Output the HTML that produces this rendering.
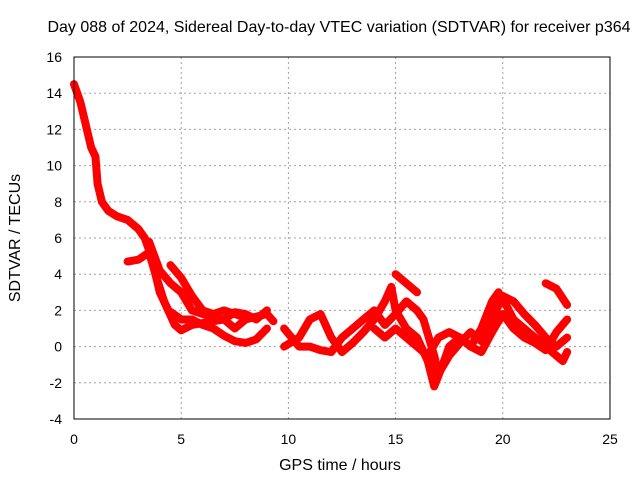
<!DOCTYPE html>
<html><head><meta charset="utf-8"><style>
body{margin:0;background:#fff}
svg text{font-family:"Liberation Sans",sans-serif;font-size:14px;fill:#000}
svg text.big{font-size:16px}
</style></head><body>
<svg id="chart" width="640" height="480" xmlns="http://www.w3.org/2000/svg">
<text class="big" x="339" y="32" text-anchor="middle">Day 088 of 2024, Sidereal Day-to-day VTEC variation (SDTVAR) for receiver p364</text>
<text class="big" x="340" y="470" text-anchor="middle">GPS time / hours</text>
<text class="big" transform="translate(20,238) rotate(-90)" text-anchor="middle">SDTVAR / TECUs</text>
<g id="grid"></g><g id="ticks"></g><g id="data"></g>
<rect x="74" y="57" width="536" height="362" fill="none" stroke="#000" stroke-width="1"/>
</svg>
<script>
const xTicks=[0,5,10,15,20,25];
const yTicks=[-4,-2,0,2,4,6,8,10,12,14,16];
const trackA=[[0,14.5],[0.3,13.5],[0.5,12.5],[0.8,11],[1,10.5],[1.1,9],[1.3,8],[1.6,7.5],[2,7.2],[2.5,7],[3,6.5],[3.3,6],[3.6,5],[4,3],[4.4,2],[5,1.5],[5.5,1.5],[6,1.2],[6.5,1],[7,0.6],[7.5,0.3],[8,0.2],[8.5,0.4],[9,1]];
const trackB=[[2.5,4.7],[3,4.8],[3.5,5.2],[3.8,4],[4.2,2.5],[4.7,1.2],[5,0.9],[5.5,1.2],[6,1.3],[7,1.5],[7.5,1],[8,1.5],[9,1.8],[9.3,1.4]];
const trackC=[[3.5,5.8],[4,4.2],[4.5,3.5],[5,3],[5.5,2],[6,1.8],[6.5,1.6],[7,1.5],[7.5,1.9],[8,1.8],[8.5,1.5],[9,2]];
const trackD=[[4.5,4.5],[5,3.8],[5.5,2.8],[6,2],[6.5,1.8],[7,2],[8,1.6]];
const trackE=[[9.8,0],[10.5,0.5],[11,1.5],[11.5,1.8],[12,0.5],[12.5,-0.3],[13,0.2],[13.5,0.8],[14,1.5],[14.5,2.5],[14.8,3.3],[15,2],[15.5,1],[16,0.5],[16.5,-0.8],[16.8,-2.2],[17.2,-1],[17.5,0],[18,0.5],[18.5,0],[19,1],[19.5,2.5],[19.8,3],[20.2,2.2],[20.5,1.5],[21,1],[21.5,0.5],[22,0],[22.5,-0.5],[22.8,-0.8],[23,-0.3]];
const trackF=[[9.8,1],[10.5,0],[11,0],[11.5,-0.2],[12,-0.3],[12.5,0.5],[13,1],[13.5,1.5],[14,2],[14.5,1.2],[15,1.8],[15.5,2.5],[16,2],[16.3,1.5],[16.8,-0.5],[17,-1.5],[17.5,-0.5],[18,0.2],[18.5,0.8],[19,0.3],[19.5,1.5],[20,2.8],[20.5,2.5],[21,1.8],[21.5,1.2],[22,0.5],[22.5,0],[23,0.5]];
const trackG=[[15,4],[15.5,3.5],[16,3]];
const trackH=[[14,1],[14.5,0.5],[15,1],[15.5,0.5],[16,0],[16.5,-0.5],[17,0.5],[17.5,0.8],[18,0.5],[18.5,0],[19,-0.3],[19.5,0.8],[20,1.8],[20.5,1],[21,0.5],[21.5,0.2],[22,-0.2],[22.5,0.8],[23,1.5]];
const trackI=[[22,3.5],[22.5,3.2],[23,2.3]];
const tracks=[trackA,trackB,trackC,trackD,trackE,trackF,trackG,trackH,trackI];
const NS="http://www.w3.org/2000/svg";
const X=v=>74+v*536/25, Y=v=>419-(v+4)*362/20;
const grid=document.getElementById('grid'),ticks=document.getElementById('ticks'),dg=document.getElementById('data');
function mk(t,a,p){const e=document.createElementNS(NS,t);for(const k in a)e.setAttribute(k,a[k]);p.appendChild(e);return e;}
xTicks.forEach(v=>{
 if(v>0&&v<25){const g=mk('line',{x1:X(v),x2:X(v),y1:57,y2:419,stroke:'#a0a0a0','stroke-dasharray':'2,3'},grid);
 
 }
 const t=mk('text',{x:X(v),y:444,'text-anchor':'middle'},ticks);t.textContent=v;
 
 
});
yTicks.forEach(v=>{
 if(v>-4&&v<16){const g=mk('line',{x1:74,x2:610,y1:Y(v),y2:Y(v),stroke:'#a0a0a0','stroke-dasharray':'2,3'},grid);
 
 }
 const t=mk('text',{x:62,y:Y(v)+5,'text-anchor':'end'},ticks);t.textContent=v;
 
 
});
tracks.forEach((tr,i)=>{
 const p=mk('polyline',{points:tr.map(d=>X(d[0])+','+Y(d[1])).join(' '),fill:'none',stroke:'#ff0000','stroke-width':8,'stroke-linejoin':'round','stroke-linecap':'round'},dg);
 
 
});
</script>
</body></html>
